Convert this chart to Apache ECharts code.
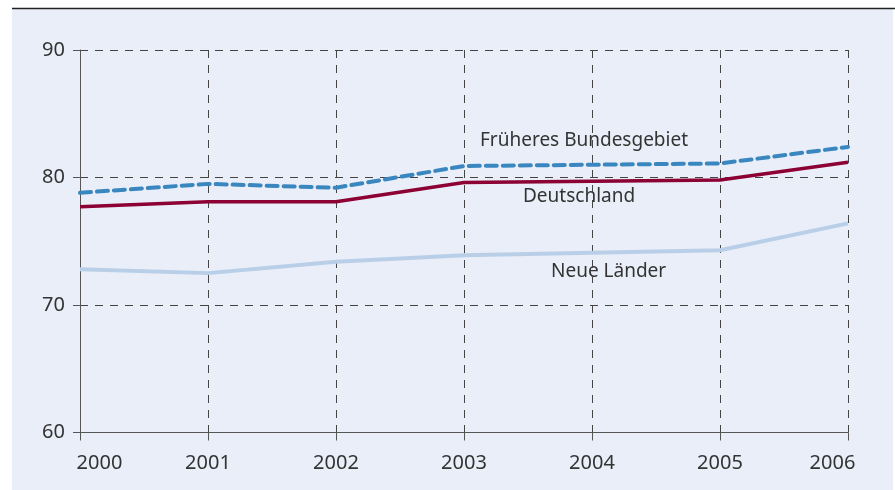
<!DOCTYPE html>
<html>
<head>
<meta charset="utf-8">
<script src="https://cdn.jsdelivr.net/npm/echarts@6/dist/echarts.min.js"></script>
<style>
  html, body { margin: 0; padding: 0; background: #fff; }
  #chart { width: 895px; height: 490px; }
</style>
</head>
<body>
<div id="chart"></div>
<script>
var years = ['2000', '2001', '2002', '2003', '2004', '2005', '2006'];
var frueheres = [78.8, 79.5, 79.2, 80.9, 81.0, 81.1, 82.4];
var deutschland = [77.7, 78.1, 78.1, 79.6, 79.7, 79.8, 81.2];
var neueLaender = [72.8, 72.5, 73.4, 73.9, 74.1, 74.3, 76.4];
var yTicks = [60, 70, 80, 90];

var chart = echarts.init(document.getElementById('chart'));
var font = '"Noto Sans", sans-serif';

chart.setOption({
  animation: false,
  backgroundColor: '#fff',
  grid: { left: 80, right: 47, top: 50, bottom: 57.5 },
  graphic: [
    { type: 'rect', z: -10, shape: { x: 12, y: 9, width: 881, height: 481 }, style: { fill: '#e9eef8' } },
    { type: 'line', z: -9, shape: { x1: 12, y1: 8.5, x2: 895, y2: 8.5 }, style: { stroke: '#222', lineWidth: 1.5 } },
    { type: 'text', left: 480, top: 131, style: { text: 'Früheres Bundesgebiet', font: '19px ' + font, fill: '#333' } },
    { type: 'text', left: 523, top: 187, style: { text: 'Deutschland', font: '19px ' + font, fill: '#333' } },
    { type: 'text', left: 551, top: 262, style: { text: 'Neue Länder', font: '19px ' + font, fill: '#333' } }
  ],
  xAxis: {
    type: 'category',
    data: years,
    boundaryGap: false,
    axisLine: { lineStyle: { color: '#555', width: 1 } },
    axisTick: { show: true, length: 8, lineStyle: { color: '#555' } },
    axisLabel: {
      interval: 0, margin: 21, color: '#333', fontSize: 20, fontFamily: font,
      formatter: function (v, i) {
        if (i === 0) return '{first|' + v + '}';
        if (i === years.length - 1) return '{last|' + v + '}';
        return v;
      },
      rich: {
        first: { padding: [0, 0, 0, 39], fontSize: 20, fontFamily: font, color: '#333' },
        last: { padding: [0, 31, 0, 0], fontSize: 20, fontFamily: font, color: '#333' }
      }
    },
    splitLine: { show: true, lineStyle: { color: '#444', type: [8, 7], width: 1 } }
  },
  yAxis: {
    type: 'value',
    min: yTicks[0],
    max: yTicks[yTicks.length - 1],
    interval: 10,
    axisLine: { show: true, lineStyle: { color: '#555', width: 1 } },
    axisTick: { show: true, length: 7, lineStyle: { color: '#555' } },
    axisLabel: { margin: 15, color: '#333', fontSize: 20, fontFamily: font },
    splitLine: { show: true, lineStyle: { color: '#444', type: [8, 7], width: 1 } }
  },
  series: [
    {
      name: 'Neue Länder', type: 'line', data: neueLaender,
      symbol: 'none', lineStyle: { color: '#b9cfe8', width: 4 }
    },
    {
      name: 'Deutschland', type: 'line', data: deutschland,
      symbol: 'none', lineStyle: { color: '#8c0033', width: 3.5 }
    },
    {
      name: 'Früheres Bundesgebiet', type: 'line', data: frueheres,
      symbol: 'none', lineStyle: { color: '#3a87c0', width: 4, type: [11, 6], cap: 'round' }
    }
  ]
});
</script>
</body>
</html>
